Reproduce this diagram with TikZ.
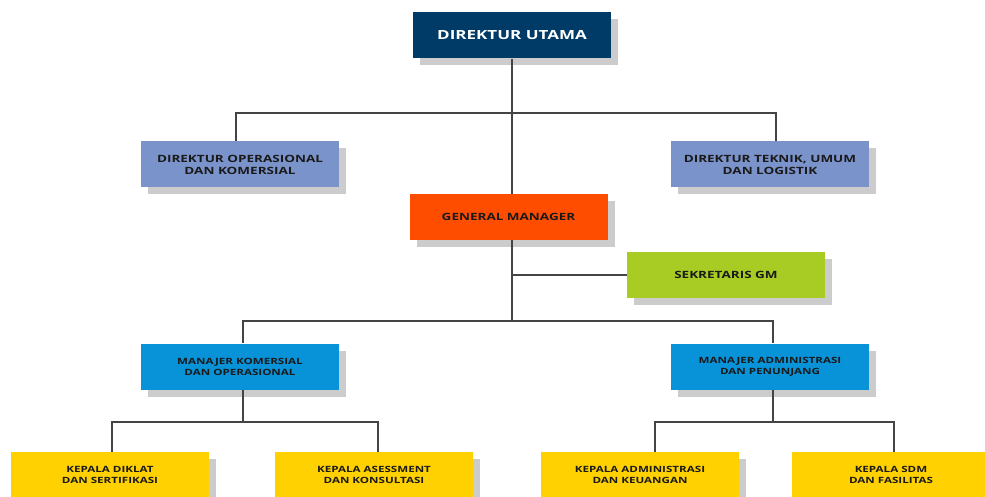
\documentclass[tikz,border=0pt]{standalone}
\usepackage{fontspec}
\setmainfont{Open Sans}[FakeStretch=1.35]
\usetikzlibrary{shadows}

\definecolor{utamaBlue}{HTML}{003A66}
\definecolor{direkturBlue}{HTML}{7B93CB}
\definecolor{gmOrange}{HTML}{FF4D00}
\definecolor{sekGreen}{HTML}{A8CC24}
\definecolor{manajerBlue}{HTML}{0892D8}
\definecolor{kepalaYellow}{HTML}{FFD100}
\definecolor{shadowGray}{HTML}{CCCCCC}
\definecolor{lineGray}{HTML}{444444}
\definecolor{textDark}{HTML}{1A1A1A}

\tikzset{
	unit/.style={rectangle, minimum width=198, minimum height=46, inner sep=0pt,
		align=center, text=textDark, font=\bfseries\fontsize{10}{12}\selectfont,
		drop shadow={shadow xshift=7pt, shadow yshift=-7pt, fill=shadowGray, opacity=1}},
	small/.style={font=\bfseries\fontsize{8.6}{11}\selectfont},
	link/.style={draw=lineGray, line width=1.5pt},
}

\begin{document}
\begin{tikzpicture}[x=1pt, y=-1pt]
	\useasboundingbox (0,0) rectangle (985,497);
	\clip (0,0) rectangle (985,497);
	% kotak
	\node[unit, fill=utamaBlue, text=white, font=\bfseries\fontsize{12.6}{14}\selectfont] (utama) at (512,35.5) {DIREKTUR UTAMA};
	\node[unit, fill=direkturBlue] (dirops) at (240,164.5) {DIREKTUR OPERASIONAL\\DAN KOMERSIAL};
	\node[unit, fill=direkturBlue] (dirtek) at (770,164.5) {DIREKTUR TEKNIK, UMUM\\DAN LOGISTIK};
	\node[unit, fill=gmOrange] (gm) at (508.5,217) {GENERAL MANAGER};
	\node[unit, fill=sekGreen] (sek) at (726,275) {SEKRETARIS GM};
	\node[unit, small, fill=manajerBlue] (mko) at (240,366.5) {MANAJER KOMERSIAL\\DAN OPERASIONAL};
	\node[unit, small, fill=manajerBlue] (mad) at (770,366.5) {MANAJER ADMINISTRASI\\DAN PENUNJANG};
	\node[unit, small, fill=kepalaYellow] (diklat) at (110,475) {KEPALA DIKLAT\\DAN SERTIFIKASI};
	\node[unit, small, fill=kepalaYellow] (asesmen) at (374,475) {KEPALA ASESSMENT\\DAN KONSULTASI};
	\node[unit, small, fill=kepalaYellow] (admin) at (640,475) {KEPALA ADMINISTRASI\\DAN KEUANGAN};
	\node[unit, small, fill=kepalaYellow] (sdm) at (891,475) {KEPALA SDM\\DAN FASILITAS};
	% garis
	\coordinate (busA) at (512,113);
	\coordinate (busB) at (512,321);
	\coordinate (busC) at (243,422);
	\coordinate (busD) at (773,422);
	\begin{scope}[on background layer/.try]
	\path[link]
		(utama.south -| busA) -- (gm.north -| busA)
		(busA) -| ([xshift=-4pt]dirops.north)
		(busA) -| ([xshift=6pt]dirtek.north)
		(gm.south -| busB) |- (sek.west)
		(gm.south -| busB) -- (busB)
		(busB) -| (mko.north -| busC)
		(busB) -| (mad.north -| busD)
		(mko.south -| busC) -- (busC)
		(busC) -| ([xshift=2pt]diklat.north)
		(busC) -| ([xshift=4pt]asesmen.north)
		(mad.south -| busD) -- (busD)
		(busD) -| ([xshift=15pt]admin.north)
		(busD) -| ([xshift=3pt]sdm.north);
	\end{scope}
\end{tikzpicture}
\end{document}
